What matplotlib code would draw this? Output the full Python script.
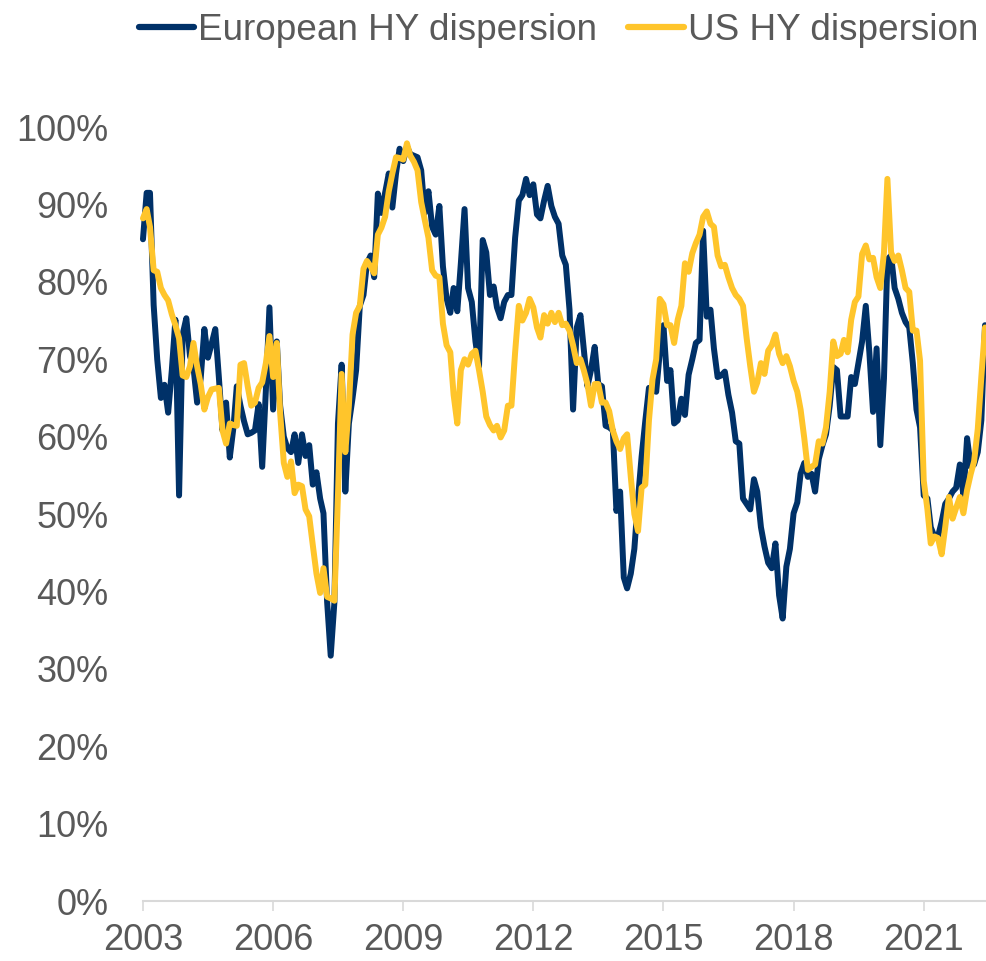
import matplotlib
matplotlib.use("Agg")
import matplotlib.pyplot as plt
import matplotlib.ticker as mticker
import pandas as pd

plt.rcParams['font.family'] = ['Liberation Sans', 'DejaVu Sans']

start_month = "2003-01-01"
series_names = ["European HY dispersion", "US HY dispersion"]

# Monthly values (%), Jan 2003 - Jun 2022
european_hy = [
    85.5, 91.5, 91.5, 77, 70, 65, 66.7, 63.1, 68.6, 75.1, 52.4, 73.2,      # 2003
    75.3, 70.4, 69, 64.4, 67.5, 73.9, 70.2, 72, 73.9, 67.7, 60.8, 64.4,    # 2004
    57.3, 61.2, 66.5, 64, 62, 60.3, 60.5, 60.8, 64.2, 56.1, 66, 76.7,      # 2005
    63.5, 72.3, 64, 60, 58.5, 58, 60.3, 56.6, 60.3, 57.5, 58.9, 53.8,      # 2006
    55.4, 52, 50.1, 38.6, 31.7, 38.6, 61.7, 69.3, 52.9, 61.7, 65, 68.6,    # 2007
    76.9, 78.3, 82.4, 83.4, 80.6, 91.4, 88.9, 91.5, 94, 89.6, 94, 97.2,    # 2008
    95.6, 97.5, 96.5, 96.3, 96.1, 94.4, 88.9, 91.7, 87.1, 86.1, 89.8, 82,  # 2009
    77.8, 76, 79.2, 76.2, 82.4, 89.4, 79.2, 77.4, 72.3, 69.1, 85.4, 83.8,  # 2010
    78.3, 79.4, 76.7, 75.3, 77.4, 78.3, 78.3, 85.7, 90.5, 91.2, 93.3, 91.2,  # 2011
    92.6, 88.7, 88.2, 90.5, 92.4, 89.8, 88.4, 87.5, 83.4, 82.2, 76.4, 63.5,  # 2012
    74.1, 75.7, 71.4, 66.5, 68.6, 71.6, 66.8, 66.5, 61.4, 61.2, 60.8, 50.4,  # 2013
    52.9, 41.8, 40.4, 42.3, 45.5, 52, 57.4, 62, 66.3, 66, 65.8, 70.9,      # 2014
    74.4, 67.2, 68.6, 61.7, 62.1, 64.9, 62.8, 68, 70, 72.1, 72.5, 86.6,    # 2015
    75.5, 76.4, 71.4, 67.7, 67.9, 68.4, 65.4, 63.1, 59.4, 59.1, 52, 51.3,  # 2016
    50.6, 54.5, 52.9, 48.3, 45.8, 43.7, 43, 46.2, 39.5, 36.5, 43.2, 45.5,  # 2017
    50.1, 51.5, 55.2, 56.6, 54.8, 55.2, 52.9, 57.1, 58.9, 60.3, 64, 69,    # 2018
    68.6, 62.6, 62.6, 62.6, 67.7, 66.8, 69.5, 72.3, 76.9, 70.9, 63.2, 71.4,  # 2019
    58.9, 67.5, 82.9, 83.4, 79.2, 77.8, 76, 74.8, 74.1, 69.5, 63.5, 61.2,  # 2020
    52.4, 52, 48.3, 47.1, 47.1, 49, 51.3, 52, 52.9, 53.4, 56.4, 52.4,      # 2021
    59.8, 56.1, 56.4, 58, 62.1, 74.4,                                      # 2022
]

us_hy = [
    88.2, 89.4, 87.1, 81.5, 81.3, 79.2, 78.3, 77.6, 75.8, 74.4, 72.7, 67.9,  # 2003
    67.7, 69.1, 72.1, 69.1, 66.8, 63.5, 65.1, 66.1, 66.2, 66.3, 60.8, 59.1,  # 2004
    61.7, 61.5, 61.4, 69.3, 69.5, 66.5, 64, 64.4, 66.3, 67, 69.5, 73,      # 2005
    67.7, 72.1, 63.1, 56.6, 54.8, 56.8, 52.7, 53.8, 53.6, 50.6, 49.7, 46,  # 2006
    42.3, 39.8, 43, 39.3, 39.1, 38.8, 52.4, 68.1, 58, 64, 73.2, 76,        # 2007
    76.9, 81.7, 82.7, 82, 81.1, 86.1, 87, 88.4, 91.7, 94, 96.1, 96,        # 2008
    95.8, 97.9, 96.3, 95.5, 94.4, 90.3, 88, 85.7, 81.5, 80.8, 80.6, 74.6,  # 2009
    71.8, 70.9, 65.4, 61.7, 68.6, 70, 69.3, 70.7, 71.1, 68.6, 65.8, 62.6,  # 2010
    61.5, 60.8, 61.4, 59.9, 60.8, 64, 64, 70.9, 76.9, 75, 76, 77.8,        # 2011
    76.7, 74.1, 72.8, 75.7, 74.6, 76, 74.8, 76, 74.4, 74.6, 73.7, 71.8,    # 2012
    69.5, 70, 68.6, 66.8, 64, 66.8, 66.8, 64.4, 64.4, 63.3, 60.8, 59.4,    # 2013
    58.4, 59.8, 60.3, 54.8, 50, 47.8, 53.4, 53.8, 62.1, 67.4, 70, 77.8,    # 2014
    77.1, 74.4, 74.4, 72.1, 75.1, 76.9, 82.4, 81.3, 83.7, 85, 86.1, 88.4,  # 2015
    89.1, 87.5, 87.1, 83.4, 82, 82.2, 80.6, 79.2, 78.3, 77.8, 76.9, 72.8,  # 2016
    69.1, 65.8, 67, 69.5, 68.1, 71.1, 71.8, 73.2, 70.7, 69.5, 70.4, 69.1,  # 2017
    67.2, 65.8, 63.5, 59.8, 55.7, 56.1, 56.4, 59.4, 59.1, 61.2, 65.8, 72.3,  # 2018
    70.4, 70.7, 72.5, 70.9, 75.1, 77.4, 78.1, 83.6, 84.7, 82.9, 83.1, 80.6,  # 2019
    79.2, 83.8, 93.3, 83.8, 82.7, 83.4, 81.5, 79.2, 78.7, 73.7, 73.7, 69.8,  # 2020
    54.3, 50.6, 46.2, 47.1, 46.9, 44.8, 48.3, 52.2, 49.4, 50.8, 52.2, 50.1,  # 2021
    53.1, 55.2, 56.8, 61, 67.7, 74.1,                                      # 2022
]

year_ticks = [2003, 2006, 2009, 2012, 2015, 2018, 2021]
y_ticks = [0, 10, 20, 30, 40, 50, 60, 70, 80, 90, 100]

dates = pd.date_range(start_month, periods=len(european_hy), freq="MS")

NAVY = "#003168"
GOLD = "#FFC52B"
TXT = "#595959"
AXC = "#d9d9d9"

fig = plt.figure(figsize=(9.86, 9.61), dpi=100)
ax = fig.add_axes([0.145, 0.0624, 0.854, 0.8054])

l1, = ax.plot(dates, european_hy, color=NAVY, lw=4.3, solid_joinstyle="round",
              solid_capstyle="round", clip_on=False, label=series_names[0])
l2, = ax.plot(dates, us_hy, color=GOLD, lw=4.3, solid_joinstyle="round",
              solid_capstyle="round", clip_on=False, label=series_names[1])

ax.set_xlim(dates[0], dates[-1])
ax.set_ylim(0, 100)

ax.set_xticks([pd.Timestamp(f"{y}-01-01") for y in year_ticks])
ax.set_xticklabels([str(y) for y in year_ticks])
ax.set_yticks(y_ticks)
ax.yaxis.set_major_formatter(mticker.FuncFormatter(lambda v, p: f"{int(v)}%"))

for s in ["left", "right", "top"]:
    ax.spines[s].set_visible(False)
ax.spines["bottom"].set_color(AXC)
ax.spines["bottom"].set_linewidth(1.5)

ax.tick_params(axis="x", colors=AXC, length=7, width=1.2, pad=9,
               labelsize=26, labelcolor=TXT)
ax.tick_params(axis="y", length=0, pad=25, labelsize=26, labelcolor=TXT)

leg = fig.legend(handles=[l1, l2], loc="center", bbox_to_anchor=(0.5664, 0.968),
                 ncol=2, frameon=False, fontsize=26.6, handlelength=1.5,
                 handletextpad=0.12, columnspacing=0.83, borderpad=0,
                 borderaxespad=0)
for t in leg.get_texts():
    t.set_color(TXT)
for h in leg.get_lines():
    h.set_linewidth(4.5)
    h.set_solid_capstyle("round")

fig.savefig("out.png", dpi=100)
